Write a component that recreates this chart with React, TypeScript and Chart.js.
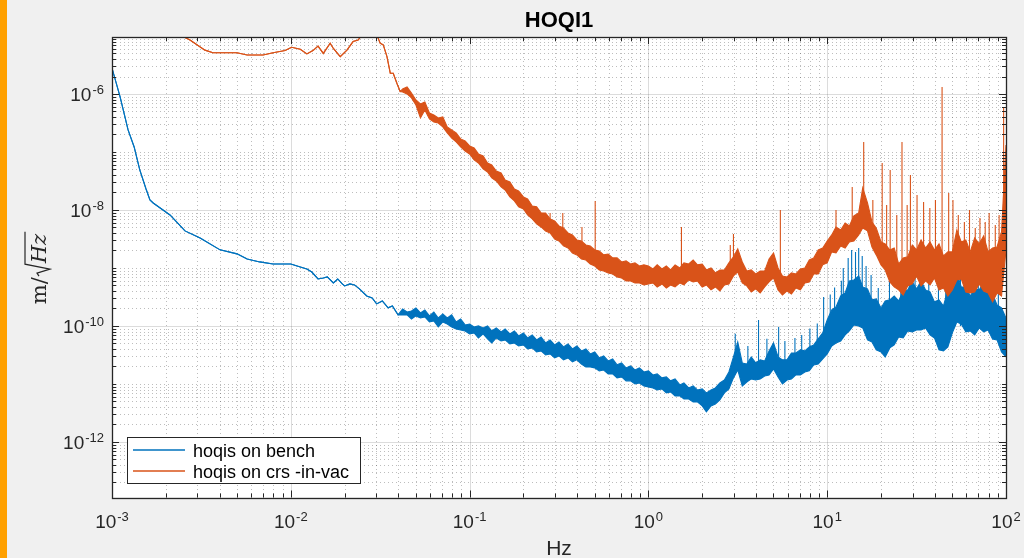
import React, { useEffect, useRef } from "react";
import { Chart, registerables } from "chart.js";

Chart.register(...registerables);

// ---------- axes, ticks, texts ----------
const xRange = [1e-3, 100];
const yRange = [1.1e-13, 9.6e-6];
const xTickValues = [1e-3, 1e-2, 1e-1, 1, 10, 100];
const xTickExps = ["-3", "-2", "-1", "0", "1", "2"];
const yTickValues = [1e-12, 1e-10, 1e-8, 1e-6];
const yTickExps = ["-12", "-10", "-8", "-6"];
const titleText = "HOQI1";
const xLabelText = "Hz";
const legendLabels = ["hoqis on bench", "hoqis on crs -in-vac"];

// ---------- bench series (blue) ----------
const benchSmoothFreq = [1.0e-3, 1.11e-3, 1.23e-3, 1.33e-3, 1.43e-3, 1.55e-3, 1.63e-3, 1.70e-3, 1.86e-3, 2.11e-3, 2.56e-3, 3.11e-3, 4.02e-3, 5.0e-3, 5.7e-3, 6.7e-3, 7.96e-3, 1.0e-2, 1.13e-2, 1.23e-2, 1.31e-2, 1.42e-2, 1.52e-2, 1.6e-2, 1.73e-2, 1.83e-2, 1.94e-2, 2.0e-2, 2.14e-2, 2.27e-2, 2.42e-2, 2.66e-2, 2.85e-2, 3.02e-2, 3.25e-2, 3.5e-2, 3.7e-2, 3.98e-2];
const benchSmoothVal = [2.8e-6, 8.9e-7, 2.4e-7, 1.22e-7, 4.9e-8, 2.3e-8, 1.49e-8, 1.32e-8, 1.08e-8, 8.2e-9, 4.35e-9, 3.29e-9, 2.05e-9, 1.75e-9, 1.43e-9, 1.27e-9, 1.17e-9, 1.17e-9, 1.04e-9, 9.6e-10, 8.5e-10, 6.45e-10, 6.7e-10, 7.0e-10, 5.5e-10, 6.45e-10, 5.3e-10, 4.9e-10, 5.3e-10, 5.1e-10, 4.35e-10, 3.29e-10, 3.04e-10, 2.4e-10, 2.7e-10, 2.05e-10, 2.21e-10, 1.55e-10];

// shared frequency grid of the noisy part of both spectra
const bandFreq = [
  0.0422, 0.0447, 0.0473, 0.0501, 0.0531, 0.0562, 0.0596, 0.0631, 0.0668, 0.0708, 0.075, 0.0794, 0.0841, 0.0891, 0.0944,
  0.1, 0.106, 0.112, 0.119, 0.126, 0.133, 0.141, 0.15, 0.158, 0.168, 0.178, 0.188, 0.2, 0.211, 0.224, 0.237, 0.251, 0.266, 0.282, 0.299, 0.316, 0.335, 0.355, 0.376, 0.398, 0.422, 0.447, 0.473, 0.501, 0.531, 0.562, 0.596, 0.631, 0.668, 0.708, 0.75, 0.794, 0.841, 0.891, 0.944,
  1, 1.06, 1.12, 1.19, 1.26, 1.33, 1.41, 1.5, 1.58, 1.68, 1.78, 1.88, 2, 2.11, 2.24, 2.37, 2.51, 2.66, 2.82, 2.99, 3.16, 3.35, 3.55, 3.76, 3.98, 4.22, 4.47, 4.73, 5.01, 5.31, 5.62, 5.96, 6.31, 6.68, 7.08, 7.5, 7.94, 8.41, 8.91, 9.44,
  10, 10.6, 11.2, 11.9, 12.6, 13.3, 14.1, 15, 15.8, 16.8, 17.8, 18.8, 20, 21.1, 22.4, 23.7, 25.1, 26.6, 28.2, 29.9, 31.6, 33.5, 35.5, 37.6, 39.8, 42.2, 44.7, 47.3, 50.1, 53.1, 56.2, 59.6, 63.1, 66.8, 70.8, 75, 79.4, 84.1, 89.1, 94.4, 100,
];

const benchBandHi = [
  1.96e-10, 1.74e-10, 1.81e-10, 2.04e-10, 1.68e-10, 1.89e-10, 1.49e-10, 1.74e-10, 1.37e-10, 1.61e-10, 1.37e-10, 1.55e-10, 1.17e-10, 1.32e-10, 1.04e-10,
  1.08e-10, 9.61e-11, 1.0e-10, 9.24e-11, 1.0e-10, 8.2e-11, 9.24e-11, 7.88e-11, 8.88e-11, 7.28e-11, 8.2e-11, 6.72e-11, 7.58e-11, 6.21e-11, 7.0e-11, 5.74e-11, 6.46e-11, 5.09e-11, 5.74e-11, 4.7e-11, 5.3e-11, 4.35e-11, 4.9e-11, 4.01e-11, 4.52e-11, 3.71e-11, 4.01e-11, 3.29e-11, 3.56e-11, 2.81e-11, 3.04e-11, 2.49e-11, 2.7e-11, 2.13e-11, 2.3e-11, 1.89e-11, 2.04e-11, 1.74e-11, 1.89e-11, 1.61e-11,
  1.68e-11, 1.43e-11, 1.49e-11, 1.27e-11, 1.32e-11, 1.13e-11, 1.22e-11, 9.61e-12, 1.04e-11, 8.53e-12, 9.24e-12, 7.88e-12, 8.2e-12, 7.0e-12, 7.88e-12, 8.53e-12, 1.04e-11, 1.17e-11, 1.61e-11, 2.92e-11, 5.3e-11, 2.3e-11, 2.21e-11, 2.92e-11, 2.3e-11, 2.6e-11, 2.49e-11, 3.71e-11, 5.09e-11, 2.92e-11, 2.6e-11, 2.6e-11, 3.42e-11, 3.42e-11, 3.86e-11, 3.71e-11, 4.35e-11, 4.7e-11, 5.97e-11, 7.58e-11,
  1.27e-10, 1.89e-10, 2.13e-10, 3.29e-10, 3.71e-10, 5.97e-10, 6.21e-10, 7.28e-10, 4.7e-10, 4.35e-10, 2.81e-10, 2.92e-10, 2.04e-10, 2.7e-10, 2.81e-10, 3.29e-10, 2.7e-10, 4.01e-10, 4.18e-10, 5.74e-10, 4.35e-10, 5.97e-10, 4.18e-10, 3.86e-10, 2.6e-10, 2.81e-10, 2.21e-10, 4.18e-10, 5.09e-10, 8.2e-10, 4.7e-10, 4.7e-10, 3.29e-10, 4.35e-10, 4.18e-10, 5.51e-10, 3.86e-10, 3.56e-10, 2.3e-10, 2.04e-10, 1.37e-10,
];
const benchBandLo = [
  1.55e-10, 1.55e-10, 1.32e-10, 1.49e-10, 1.37e-10, 1.43e-10, 1.17e-10, 1.22e-10, 9.61e-11, 1.17e-10, 1.08e-10, 9.61e-11, 8.88e-11, 8.53e-11, 8.2e-11,
  7.28e-11, 7.58e-11, 6.21e-11, 7.28e-11, 5.97e-11, 5.09e-11, 6.21e-11, 5.51e-11, 5.74e-11, 4.9e-11, 5.09e-11, 4.52e-11, 4.7e-11, 4.01e-11, 4.18e-11, 3.56e-11, 3.71e-11, 3.16e-11, 3.29e-11, 2.81e-11, 3.04e-11, 2.6e-11, 2.81e-11, 2.4e-11, 2.6e-11, 2.21e-11, 1.96e-11, 1.96e-11, 1.89e-11, 1.68e-11, 1.74e-11, 1.49e-11, 1.49e-11, 1.27e-11, 1.32e-11, 1.13e-11, 1.13e-11, 1.0e-11, 1.04e-11, 9.24e-12,
  8.88e-12, 8.53e-12, 7.88e-12, 8.2e-12, 7.0e-12, 7.28e-12, 6.21e-12, 6.21e-12, 5.51e-12, 5.51e-12, 4.9e-12, 4.9e-12, 4.18e-12, 3.29e-12, 4.18e-12, 4.52e-12, 5.3e-12, 7.0e-12, 8.2e-12, 1.27e-11, 1.74e-11, 9.24e-12, 1.08e-11, 1.22e-11, 1.17e-11, 1.22e-11, 1.37e-11, 1.43e-11, 1.81e-11, 1.32e-11, 1.0e-11, 1.17e-11, 1.22e-11, 1.43e-11, 1.43e-11, 1.61e-11, 1.68e-11, 2.13e-11, 2.21e-11, 2.7e-11,
  3.29e-11, 4.52e-11, 5.09e-11, 5.51e-11, 7.0e-11, 8.2e-11, 1.04e-10, 1.0e-10, 9.24e-11, 5.74e-11, 5.3e-11, 3.86e-11, 3.56e-11, 2.92e-11, 4.18e-11, 4.7e-11, 6.46e-11, 6.21e-11, 8.2e-11, 7.88e-11, 8.53e-11, 8.53e-11, 9.24e-11, 7.0e-11, 6.21e-11, 3.86e-11, 3.71e-11, 4.35e-11, 7.58e-11, 1.17e-10, 1.08e-10, 7.88e-11, 8.2e-11, 7.0e-11, 9.24e-11, 7.88e-11, 8.53e-11, 5.97e-11, 5.74e-11, 3.56e-11, 2.92e-11,
];
const benchSpikeFreq = [3.06, 3.6, 4.13, 4.6, 5.35, 5.8, 6.6, 7.2, 8.0, 8.8, 9.55, 10.4, 11.0, 12.0, 12.3, 13.1, 13.7, 14.4, 15.0, 15.7, 16.5, 17.6, 19.3, 22.3, 25.8, 28.8, 31.0, 34.0, 37.0, 41.9, 46.0, 52.1, 55.6, 60.5, 64.9, 70.0, 75.7, 82.0, 90.6];
const benchSpikeTop = [7.3e-11, 4.5e-11, 1.27e-10, 6.0e-11, 9.61e-11, 5.5e-11, 6.2e-11, 7.0e-11, 9.0e-11, 1.1e-10, 3.16e-10, 3.5e-10, 4.6e-10, 6.0e-10, 1.0e-9, 1.49e-9, 2.04e-9, 1.89e-9, 2.21e-9, 1.61e-9, 1.08e-9, 7.58e-10, 4.5e-10, 5.97e-10, 6.5e-10, 8.53e-10, 7.5e-10, 1.17e-9, 6.0e-10, 1.0e-9, 6.5e-10, 1.49e-9, 9.24e-10, 7.5e-10, 1.0e-9, 8.0e-10, 1.27e-9, 7.0e-10, 5.74e-10];
const benchSpikeBase = [1.5e-11, 1.4e-11, 1.7e-11, 1.5e-11, 1.6e-11, 1.5e-11, 1.7e-11, 2e-11, 2e-11, 2.5e-11, 4e-11, 5e-11, 6e-11, 8e-11, 1e-10, 1.2e-10, 1.3e-10, 1.3e-10, 1.3e-10, 1.2e-10, 1e-10, 8e-11, 5e-11, 6e-11, 8e-11, 1e-10, 1e-10, 1e-10, 8e-11, 8e-11, 6e-11, 1e-10, 1e-10, 1e-10, 1e-10, 1e-10, 1e-10, 8e-11, 7e-11];

// ---------- in-vac series (red) ----------
const vacSmoothFreq = [1.0e-3, 2.0e-3, 2.4e-3, 2.73e-3, 3.31e-3, 3.67e-3, 5.0e-3, 5.7e-3, 7.0e-3, 7.96e-3, 9.3e-3, 1.01e-2, 1.13e-2, 1.23e-2, 1.33e-2, 1.42e-2, 1.52e-2, 1.66e-2, 1.73e-2, 1.89e-2, 2.06e-2, 2.23e-2, 2.38e-2, 2.5e-2, 2.74e-2, 3.03e-2, 3.16e-2, 3.29e-2, 3.45e-2, 3.6e-2, 3.74e-2, 3.92e-2, 4.09e-2];
const vacSmoothVal = [3.0e-5, 1.5e-5, 1.04e-5, 8.5e-6, 5.7e-6, 5.15e-6, 5.15e-6, 4.7e-6, 4.7e-6, 5.15e-6, 5.6e-6, 6.4e-6, 5.9e-6, 4.9e-6, 5.6e-6, 6.7e-6, 5.0e-6, 7.5e-6, 6.1e-6, 4.4e-6, 5.7e-6, 8.0e-6, 8.5e-6, 1.04e-5, 1.4e-5, 1.04e-5, 7.5e-6, 7.0e-6, 4.4e-6, 2.28e-6, 2.28e-6, 1.53e-6, 1.1e-6];
const vacBandHi = [
  1.22e-6, 1.32e-6, 1.04e-6, 7.88e-7, 6.72e-7, 7.28e-7, 4.7e-7, 4.35e-7, 3.86e-7, 4.01e-7, 2.7e-7, 2.4e-7, 2.13e-7, 1.68e-7, 1.55e-7,
  1.27e-7, 1.17e-7, 9.24e-8, 8.53e-8, 6.46e-8, 5.97e-8, 4.7e-8, 4.35e-8, 3.29e-8, 3.04e-8, 2.3e-8, 2.13e-8, 1.68e-8, 1.55e-8, 1.17e-8, 1.13e-8, 8.88e-9, 8.88e-9, 7.0e-9, 6.46e-9, 5.3e-9, 4.9e-9, 4.01e-9, 3.71e-9, 3.04e-9, 2.92e-9, 2.49e-9, 2.4e-9, 2.04e-9, 1.96e-9, 1.68e-9, 1.74e-9, 1.49e-9, 1.49e-9, 1.27e-9, 1.32e-9, 1.17e-9, 1.22e-9, 1.08e-9, 1.13e-9,
  1.08e-9, 9.61e-10, 1.13e-9, 9.61e-10, 1.08e-9, 9.24e-10, 1.13e-9, 1.0e-9, 1.22e-9, 1.17e-9, 1.37e-9, 1.13e-9, 1.17e-9, 9.24e-10, 1.0e-9, 8.2e-10, 9.24e-10, 9.24e-10, 1.22e-9, 1.55e-9, 2.13e-9, 1.27e-9, 8.88e-10, 9.24e-10, 7.88e-10, 8.88e-10, 8.88e-10, 1.43e-9, 1.81e-9, 1.0e-9, 7.28e-10, 7.0e-10, 8.2e-10, 7.88e-10, 9.61e-10, 1.0e-9, 1.37e-9, 1.49e-9, 2.04e-9, 2.21e-9,
  2.92e-9, 3.71e-9, 5.09e-9, 4.52e-9, 5.97e-9, 5.3e-9, 7.88e-9, 8.88e-9, 2.4e-8, 1.32e-8, 6.21e-9, 4.9e-9, 2.81e-9, 2.6e-9, 2.04e-9, 2.21e-9, 1.17e-9, 1.49e-9, 1.55e-9, 2.49e-9, 2.04e-9, 3.04e-9, 2.21e-9, 2.81e-9, 2.04e-9, 2.6e-9, 1.61e-9, 1.89e-9, 1.89e-9, 4.52e-9, 2.81e-9, 3.04e-9, 1.89e-9, 3.29e-9, 2.6e-9, 3.56e-9, 1.89e-9, 2.21e-9, 2.3e-9, 4.18e-9, 1.32e-7,
];
const vacBandLo = [
  1.08e-6, 1.0e-6, 8.53e-7, 6.46e-7, 3.86e-7, 5.3e-7, 3.71e-7, 3.29e-7, 3.16e-7, 2.7e-7, 2.13e-7, 1.74e-7, 1.49e-7, 1.22e-7, 1.04e-7,
  9.24e-8, 7.28e-8, 6.46e-8, 5.09e-8, 4.52e-8, 3.56e-8, 3.16e-8, 2.49e-8, 2.21e-8, 1.68e-8, 1.43e-8, 1.13e-8, 1.04e-8, 8.2e-9, 7.0e-9, 5.74e-9, 5.09e-9, 4.35e-9, 4.01e-9, 3.16e-9, 2.92e-9, 2.4e-9, 2.21e-9, 1.81e-9, 1.68e-9, 1.43e-9, 1.37e-9, 1.17e-9, 1.08e-9, 9.24e-10, 8.88e-10, 8.2e-10, 7.88e-10, 7.0e-10, 6.72e-10, 5.97e-10, 5.97e-10, 5.51e-10, 5.51e-10, 5.09e-10,
  5.3e-10, 5.51e-10, 4.7e-10, 5.3e-10, 4.52e-10, 5.09e-10, 4.7e-10, 5.51e-10, 5.09e-10, 6.21e-10, 5.74e-10, 5.97e-10, 4.7e-10, 5.09e-10, 4.18e-10, 4.7e-10, 4.01e-10, 5.09e-10, 5.3e-10, 7.28e-10, 8.53e-10, 5.51e-10, 4.9e-10, 3.86e-10, 4.35e-10, 3.71e-10, 4.7e-10, 5.74e-10, 6.72e-10, 4.18e-10, 3.42e-10, 4.01e-10, 3.56e-10, 4.52e-10, 4.18e-10, 5.51e-10, 5.74e-10, 7.88e-10, 7.88e-10, 1.13e-9,
  1.22e-9, 1.89e-9, 1.81e-9, 2.4e-9, 2.21e-9, 2.81e-9, 2.92e-9, 3.71e-9, 4.9e-9, 4.35e-9, 2.3e-9, 1.68e-9, 1.13e-9, 9.24e-10, 5.74e-10, 4.7e-10, 4.18e-10, 3.42e-10, 4.9e-10, 5.3e-10, 7.28e-10, 4.9e-10, 5.97e-10, 5.09e-10, 6.72e-10, 4.18e-10, 4.52e-10, 3.29e-10, 4.18e-10, 6.21e-10, 6.46e-10, 3.86e-10, 3.71e-10, 3.86e-10, 5.3e-10, 4.01e-10, 3.71e-10, 2.6e-10, 3.71e-10, 3.29e-10, 2.04e-9,
];
const vacSpikeFreq = [0.282, 0.332, 0.425, 0.504, 1.53, 2.87, 2.99, 5.47, 11.2, 13.8, 16.0, 18.0, 20.3, 21.5, 22.5, 24.5, 26.2, 28.0, 29.2, 31.8, 34.6, 37.5, 40.3, 43.9, 47.8, 50.5, 54.1, 58.5, 62.5, 67.3, 71.5, 76.5, 80.5, 87.1, 91.5, 97.0];
const vacSpikeTop = [8.88e-9, 8.88e-9, 5.09e-9, 1.43e-8, 5.09e-9, 2.49e-9, 3.86e-9, 1.0e-8, 1.0e-8, 2.49e-8, 1.49e-7, 1.49e-8, 6.46e-8, 1.22e-8, 4.9e-8, 8.2e-9, 1.49e-7, 1.22e-8, 4.01e-8, 1.81e-8, 1.37e-8, 1.08e-8, 1.49e-8, 1.32e-6, 1.96e-8, 1.49e-8, 8.2e-9, 6.21e-9, 1.0e-8, 4.9e-9, 7.28e-9, 6.21e-9, 8.88e-9, 5.51e-9, 8.2e-9, 5.97e-7];
const vacSpikeBase = [5.3e-9, 3.56e-9, 2.13e-9, 1.68e-9, 8.53e-10, 1.13e-9, 1.27e-9, 6.2e-10, 3.0e-9, 4.5e-9, 1.0e-8, 3e-9, 2.0e-9, 1.5e-9, 1.7e-9, 1.2e-9, 9.6e-10, 1.2e-9, 1.4e-9, 1.5e-9, 1.4e-9, 1.5e-9, 1.4e-9, 1.1e-9, 1.1e-9, 1.2e-9, 1.7e-9, 1.5e-9, 1.3e-9, 1.4e-9, 1.4e-9, 1.4e-9, 1.2e-9, 1.1e-9, 1.2e-9, 2.0e-9];

// ---------- styling ----------
const BLUE = "#0072bd";
const RED = "#d95319";
const AXIS = "#262626";
const SANS = '"Liberation Sans", Arial, Helvetica, sans-serif';
const SERIF = '"DejaVu Serif", "Liberation Serif", serif';

function toPoints(f1: number[], v1: number[], f2: number[], v2: number[]) {
  const pts: { x: number; y: number }[] = [];
  f1.forEach((f, i) => pts.push({ x: f, y: v1[i] }));
  f2.forEach((f, i) => pts.push({ x: f, y: v2[i] }));
  return pts;
}
function spikePoints(f: number[], base: number[], top: number[]) {
  const pts: { x: number; y: number | null }[] = [];
  f.forEach((v, i) => {
    pts.push({ x: v, y: base[i] }, { x: v, y: top[i] }, { x: v, y: null });
  });
  return pts;
}

const snap = (v: number) => Math.round(v) + 0.5;
function vline(ctx: CanvasRenderingContext2D, x: number, y1: number, y2: number) {
  ctx.beginPath(); ctx.moveTo(x, y1); ctx.lineTo(x, y2); ctx.stroke();
}
function hline(ctx: CanvasRenderingContext2D, x1: number, x2: number, y: number) {
  ctx.beginPath(); ctx.moveTo(x1, y); ctx.lineTo(x2, y); ctx.stroke();
}
function drawPow(ctx: CanvasRenderingContext2D, exp: string, x: number, y: number, align: "center" | "right") {
  ctx.font = `19px ${SANS}`;
  const wb = ctx.measureText("10").width;
  ctx.font = `13px ${SANS}`;
  const we = ctx.measureText(exp).width;
  const total = wb + we + 1;
  const x0 = align === "center" ? x - total / 2 : x - total;
  ctx.textAlign = "left";
  ctx.textBaseline = "alphabetic";
  ctx.font = `19px ${SANS}`;
  ctx.fillText("10", x0, y);
  ctx.font = `13px ${SANS}`;
  ctx.fillText(exp, x0 + wb + 1, y - 7.5);
}

const yMajorExp = yTickExps.map((e) => parseInt(e, 10));

const framePlugin = {
  id: "matlabFrame",
  beforeDatasetsDraw(chart: any) {
    const { ctx, chartArea: a, width, height } = chart;
    const xs = chart.scales.x, ys = chart.scales.y;
    ctx.save();
    ctx.fillStyle = "#f0f0f0";
    ctx.fillRect(0, 0, width, height);
    ctx.fillStyle = "#ffa000";
    ctx.fillRect(0, 0, 7, height);
    ctx.fillStyle = "#ffffff";
    ctx.fillRect(a.left, a.top, a.right - a.left, a.bottom - a.top);
    ctx.lineWidth = 1;
    // minor dotted grid
    ctx.strokeStyle = "rgba(38,38,38,0.3)";
    ctx.setLineDash([1, 3]);
    for (let k = -3; k <= 1; k++) {
      for (let m = 2; m <= 9; m++) {
        const px = snap(xs.getPixelForValue(m * Math.pow(10, k)));
        vline(ctx, px, a.top, a.bottom);
      }
    }
    for (let k = -13; k <= -5; k++) {
      for (let m = 1; m <= 9; m++) {
        const v = m * Math.pow(10, k);
        if (v < yRange[0] || v > yRange[1]) continue;
        if (m === 1 && yMajorExp.includes(k)) continue;
        const py = snap(ys.getPixelForValue(v));
        hline(ctx, a.left, a.right, py);
      }
    }
    // major solid grid
    ctx.setLineDash([]);
    ctx.strokeStyle = "rgba(38,38,38,0.16)";
    xTickValues.forEach((v) => {
      const px = snap(xs.getPixelForValue(v));
      if (px > a.left + 1 && px < a.right - 1) vline(ctx, px, a.top, a.bottom);
    });
    yTickValues.forEach((v) => {
      const py = snap(ys.getPixelForValue(v));
      hline(ctx, a.left, a.right, py);
    });
    ctx.restore();
  },
  afterDatasetsDraw(chart: any) {
    const { ctx, chartArea: a } = chart;
    const xs = chart.scales.x, ys = chart.scales.y;
    ctx.save();
    ctx.strokeStyle = AXIS;
    ctx.lineWidth = 1;
    // inward ticks on all four sides
    for (let k = -3; k <= 2; k++) {
      for (let m = 1; m <= 9; m++) {
        const v = m * Math.pow(10, k);
        if (v > xRange[1] * 1.0001) continue;
        const px = snap(xs.getPixelForValue(v));
        const len = m === 1 ? 7 : 4;
        vline(ctx, px, a.bottom, a.bottom - len);
        vline(ctx, px, a.top, a.top + len);
      }
    }
    for (let k = -13; k <= -5; k++) {
      for (let m = 1; m <= 9; m++) {
        const v = m * Math.pow(10, k);
        if (v < yRange[0] || v > yRange[1]) continue;
        const major = m === 1 && yMajorExp.includes(k);
        const len = major ? 7 : 4;
        const py = snap(ys.getPixelForValue(v));
        hline(ctx, a.left, a.left + len, py);
        hline(ctx, a.right - len, a.right, py);
      }
    }
    // axes box
    ctx.lineWidth = 1.3;
    ctx.strokeRect(snap(a.left), snap(a.top), Math.round(a.right) - Math.round(a.left), Math.round(a.bottom) - Math.round(a.top));

    // tick labels
    ctx.fillStyle = AXIS;
    xTickValues.forEach((v, i) => {
      drawPow(ctx, xTickExps[i], xs.getPixelForValue(v), a.bottom + 30.5, "center");
    });
    yTickValues.forEach((v, i) => {
      drawPow(ctx, yTickExps[i], a.left - 8, ys.getPixelForValue(v) + 7.5, "right");
    });

    // title
    const cx = (a.left + a.right) / 2;
    ctx.fillStyle = "#000";
    ctx.font = `bold 22px ${SANS}`;
    ctx.textAlign = "center";
    ctx.textBaseline = "alphabetic";
    ctx.fillText(titleText, cx, 27);

    // x label
    ctx.fillStyle = AXIS;
    ctx.font = `21px ${SANS}`;
    ctx.fillText(xLabelText, cx, 555);

    // y label  m/sqrt(Hz)
    ctx.save();
    ctx.translate(46, 268);
    ctx.rotate(-Math.PI / 2);
    ctx.textAlign = "left";
    ctx.font = `21px ${SERIF}`;
    const wm = ctx.measureText("m/").width;
    ctx.font = `italic 21px ${SERIF}`;
    const wHz = ctx.measureText("Hz").width;
    const wRad = 13;
    const total = wm + 1 + wRad + wHz + 2;
    const x0 = -total / 2;
    ctx.font = `21px ${SERIF}`;
    ctx.fillText("m/", x0, 0);
    const rx = x0 + wm + 1;
    ctx.strokeStyle = AXIS;
    ctx.lineWidth = 1.2;
    ctx.beginPath();
    ctx.moveTo(rx, -7);
    ctx.lineTo(rx + 3, -9);
    ctx.lineTo(rx + 7, 4);
    ctx.lineTo(rx + 12, -21);
    ctx.lineTo(rx + wRad + wHz + 2, -21);
    ctx.stroke();
    ctx.font = `italic 21px ${SERIF}`;
    ctx.fillText("Hz", rx + wRad, 0);
    ctx.restore();

    // legend
    const lx = a.left + 15, ly = a.bottom - 60.5, lw = 233, lh = 46;
    ctx.fillStyle = "#fff";
    ctx.fillRect(lx, ly, lw, lh);
    ctx.strokeStyle = AXIS;
    ctx.lineWidth = 1;
    ctx.strokeRect(Math.round(lx) + 0.5, Math.round(ly) + 0.5, lw, lh);
    const colors = [BLUE, RED];
    legendLabels.forEach((label, i) => {
      const ry = ly + 13 + i * 21;
      ctx.strokeStyle = colors[i];
      ctx.lineWidth = 1.6;
      hline(ctx, lx + 6, lx + 58, ry);
      ctx.fillStyle = "#000";
      ctx.font = `18px ${SANS}`;
      ctx.textAlign = "left";
      ctx.fillText(label, lx + 66, ry + 6.5);
    });
    ctx.restore();
  },
};

export default function App() {
  const ref = useRef<HTMLCanvasElement>(null);
  useEffect(() => {
    if (!ref.current) return;
    const line = (color: string, data: any[], extra: any = {}) => ({
      data,
      borderColor: color,
      backgroundColor: color,
      borderWidth: 1.1,
      pointRadius: 0,
      pointHoverRadius: 0,
      tension: 0,
      fill: false,
      spanGaps: false,
      ...extra,
    });
    const chart = new Chart(ref.current, {
      type: "line",
      data: {
        datasets: [
          line(RED, toPoints(vacSmoothFreq, vacSmoothVal, bandFreq, vacBandLo)),
          line(RED, toPoints(vacSmoothFreq, vacSmoothVal, bandFreq, vacBandHi), { fill: "-1" }),
          line(RED, spikePoints(vacSpikeFreq, vacSpikeBase, vacSpikeTop)),
          line(BLUE, toPoints(benchSmoothFreq, benchSmoothVal, bandFreq, benchBandLo)),
          line(BLUE, toPoints(benchSmoothFreq, benchSmoothVal, bandFreq, benchBandHi), { fill: "-1" }),
          line(BLUE, spikePoints(benchSpikeFreq, benchSpikeBase, benchSpikeTop)),
        ],
      },
      options: {
        responsive: false,
        animation: false,
        devicePixelRatio: 1,
        layout: { padding: { left: 112, right: 18, top: 37, bottom: 60.5 } },
        scales: {
          x: { type: "logarithmic", min: xRange[0], max: xRange[1], display: false },
          y: { type: "logarithmic", min: yRange[0], max: yRange[1], display: false },
        },
        plugins: {
          legend: { display: false },
          tooltip: { enabled: false },
          title: { display: false },
        },
        events: [],
      },
      plugins: [framePlugin],
    } as any);
    return () => chart.destroy();
  }, []);
  return (
    <div style={{ position: "fixed", left: 0, top: 0, width: 1024, height: 558, background: "#f0f0f0" }}>
      <canvas ref={ref} width={1024} height={558} style={{ display: "block", width: 1024, height: 558 }} />
    </div>
  );
}
